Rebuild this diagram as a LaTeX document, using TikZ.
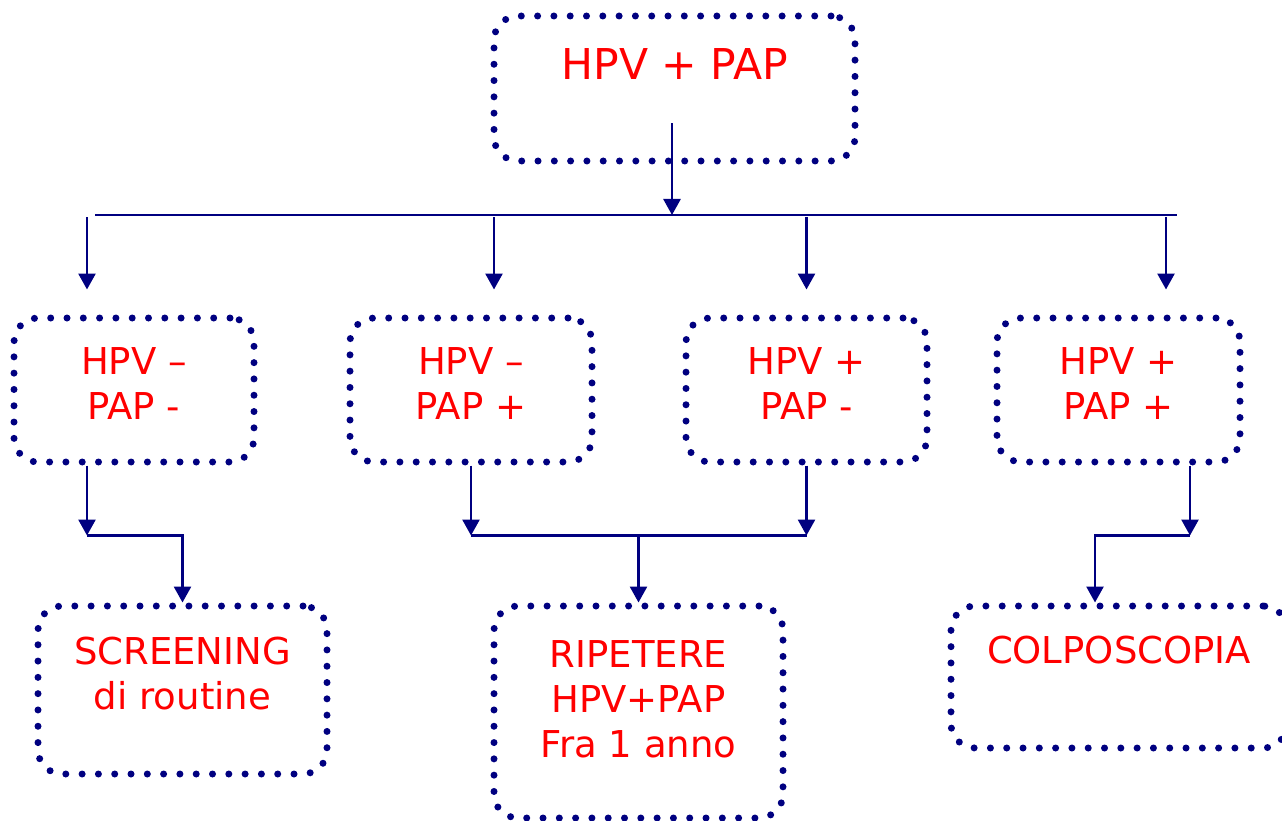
\documentclass[tikz,border=0pt]{standalone}
\usepackage{fontspec}
\setmainfont{DejaVu Sans}
\usetikzlibrary{arrows.meta}
\definecolor{navy}{RGB}{0,0,128}
\tikzset{
  box/.style={draw=navy, line width=7pt, line cap=round,
    dash pattern=on 0pt off 16.3pt, rounded corners=24pt, inner sep=0pt},
  txt/.style={text=red, inner sep=0pt, align=center,
    font=\fontsize{37}{45}\selectfont},
  con/.style={navy, line width=2.7pt},
  arr/.style={con, -{Triangle[length=16pt,width=17pt]}}
}
\begin{document}
\begin{tikzpicture}[x=1pt,y=-1pt]
  \useasboundingbox (0,0) rectangle (1282,821);
  \node[box, minimum width=361pt, minimum height=145pt] (top) at (674.5,88.5) {};
  \node[box, minimum width=240pt, minimum height=144pt] (b1) at (134,390) {};
  \node[box, minimum width=242pt, minimum height=144pt] (b2) at (471,390) {};
  \node[box, minimum width=241pt, minimum height=144pt] (b3) at (806.5,390) {};
  \node[box, minimum width=243pt, minimum height=144pt] (b4) at (1118.5,390) {};
  \node[box, minimum width=289pt, minimum height=168pt] (scr) at (182.5,690) {};
  \node[box, minimum width=289pt, minimum height=212pt] (rip) at (638.5,712) {};
  \node[box, minimum width=336pt, minimum height=142pt] (col) at (1119,677) {};

  \node[txt, font=\fontsize{42.5}{50}\selectfont] at (675,64) {HPV + PAP};
  \node[txt] at (b1 |- 0,384) {HPV –\\PAP -};
  \node[txt] at (b2 |- 0,384) {HPV –\\PAP +};
  \node[txt] at (b3 |- 0,384) {HPV +\\PAP -};
  \node[txt] at (b4 |- 0,384) {HPV +\\PAP +};
  \node[txt] at (scr |- 0,674) {SCREENING\\di routine};
  \node[txt] at (rip |- 0,699) {RIPETERE\\HPV+PAP\\Fra 1 anno};
  \node[txt] at (col |- 0,650) {COLPOSCOPIA};

  \coordinate (busL) at (95,215);
  \coordinate (busR) at (1177,215);
  \draw[con] (busL) -- (busR);
  \draw[arr] ([xshift=-2.5pt,yshift=41pt]top.south) -- ([xshift=-2.5pt]top.south |- busL);
  \draw[arr] ([xshift=-47pt,yshift=97pt]b1.north) -- ([xshift=-47pt,yshift=25pt]b1.north);
  \draw[arr] ([xshift=23pt,yshift=97pt]b2.north) -- ([xshift=23pt,yshift=25pt]b2.north);
  \draw[arr] ([yshift=97pt]b3.north) -- ([yshift=25pt]b3.north);
  \draw[arr] ([xshift=47.5pt,yshift=97pt]b4.north) -- ([xshift=47.5pt,yshift=25pt]b4.north);

  \draw[arr] ([xshift=-47pt]b1.south) -- ++(0,70) coordinate (j1);
  \draw[arr] (j1) -| (scr.north);
  \draw[arr] (b2.south) -- ++(0,70) coordinate (j2);
  \draw[arr] (b3.south) -- ++(0,70) coordinate (j3);
  \draw[con] (j2) -- (j3);
  \draw[arr] (j2 -| rip.north) -- (rip.north);
  \draw[arr] ([xshift=71.5pt]b4.south) -- ++(0,70) coordinate (j4);
  \draw[arr] (j4) -| ([xshift=-24pt]col.north);
\end{tikzpicture}
\end{document}
